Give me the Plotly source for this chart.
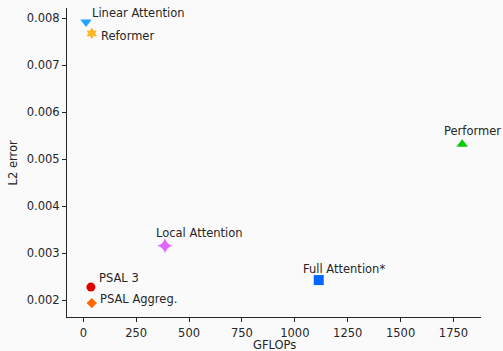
import plotly.graph_objects as go

# Attention variants: compute cost vs. reconstruction error
methods = ["Linear Attention", "Reformer", "Performer", "Local Attention",
           "PSAL 3", "PSAL Aggreg.", "Full Attention*"]
gflops = [13, 40, 1791, 386, 36, 40, 1113]
l2_error = [0.00792, 0.00768, 0.00532, 0.00316, 0.00228, 0.00194, 0.00243]

colors = ["#1ea5ff", "#ffb627", "#00cc00", "#e066ff", "#e00000", "#ff6a00", "#0066ff"]
symbols = ["triangle-down", "hexagram", "triangle-up", "star-diamond",
           "circle", "diamond", "square"]
sizes = [10, 9, 10, 11, 9, 8, 10]

# label placement (pixel offsets from each marker)
label_dx = [4, 7, 10, -11, 6, 6, -18]
label_dy = [9, -3, 13, 13, 9, 4, 11]
label_anchor = ["left", "left", "center", "left", "left", "left", "left"]

FONT = "DejaVu Sans"
INK = "#262626"
FS = 11.5

fig = go.Figure()
for name, x, y, c, s, sz in zip(methods, gflops, l2_error, colors, symbols, sizes):
    fig.add_trace(go.Scatter(
        x=[x], y=[y], mode="markers", name=name,
        marker=dict(color=c, symbol=s, size=sz, line=dict(width=0)),
        showlegend=False,
    ))

annotations = []
for name, x, y, dx, dy, anc in zip(methods, gflops, l2_error, label_dx, label_dy, label_anchor):
    annotations.append(dict(
        x=x, y=y, xref="x", yref="y", text=name, showarrow=False,
        xanchor=anc, yanchor="middle", xshift=dx, yshift=dy,
        font=dict(family=FONT, size=FS, color=INK),
    ))

annotations.append(dict(
    x=0.5, y=-0.09, xref="paper", yref="paper", text="GFLOPs", showarrow=False,
    xanchor="center", yanchor="middle", borderpad=0,
    font=dict(family=FONT, size=FS, color=INK),
))
annotations.append(dict(
    x=-0.1305, y=0.5, xref="paper", yref="paper", text="L2 error", showarrow=False,
    textangle=-90, xanchor="center", yanchor="middle",
    font=dict(family=FONT, size=FS, color=INK),
))

fig.update_layout(
    width=503, height=351,
    margin=dict(l=67, r=22, t=8, b=34),
    paper_bgcolor="#fafafa", plot_bgcolor="#fafafa",
    font=dict(family=FONT, size=FS, color=INK),
    annotations=annotations,
    xaxis=dict(
        range=[-77, 1880], tickvals=[0, 250, 500, 750, 1000, 1250, 1500, 1750],
        showgrid=False, zeroline=False, showline=True, linecolor=INK, linewidth=1,
        ticks="outside", ticklen=4, tickcolor=INK, tickwidth=1,
        ticklabelstandoff=1,
    ),
    yaxis=dict(
        range=[0.001644, 0.00822],
        tickvals=[0.002, 0.003, 0.004, 0.005, 0.006, 0.007, 0.008],
        tickformat=".3f",
        showgrid=False, zeroline=False, showline=True, linecolor=INK, linewidth=1,
        ticks="outside", ticklen=4, tickcolor=INK, tickwidth=1,
    ),
)

fig.write_html("out.html")
